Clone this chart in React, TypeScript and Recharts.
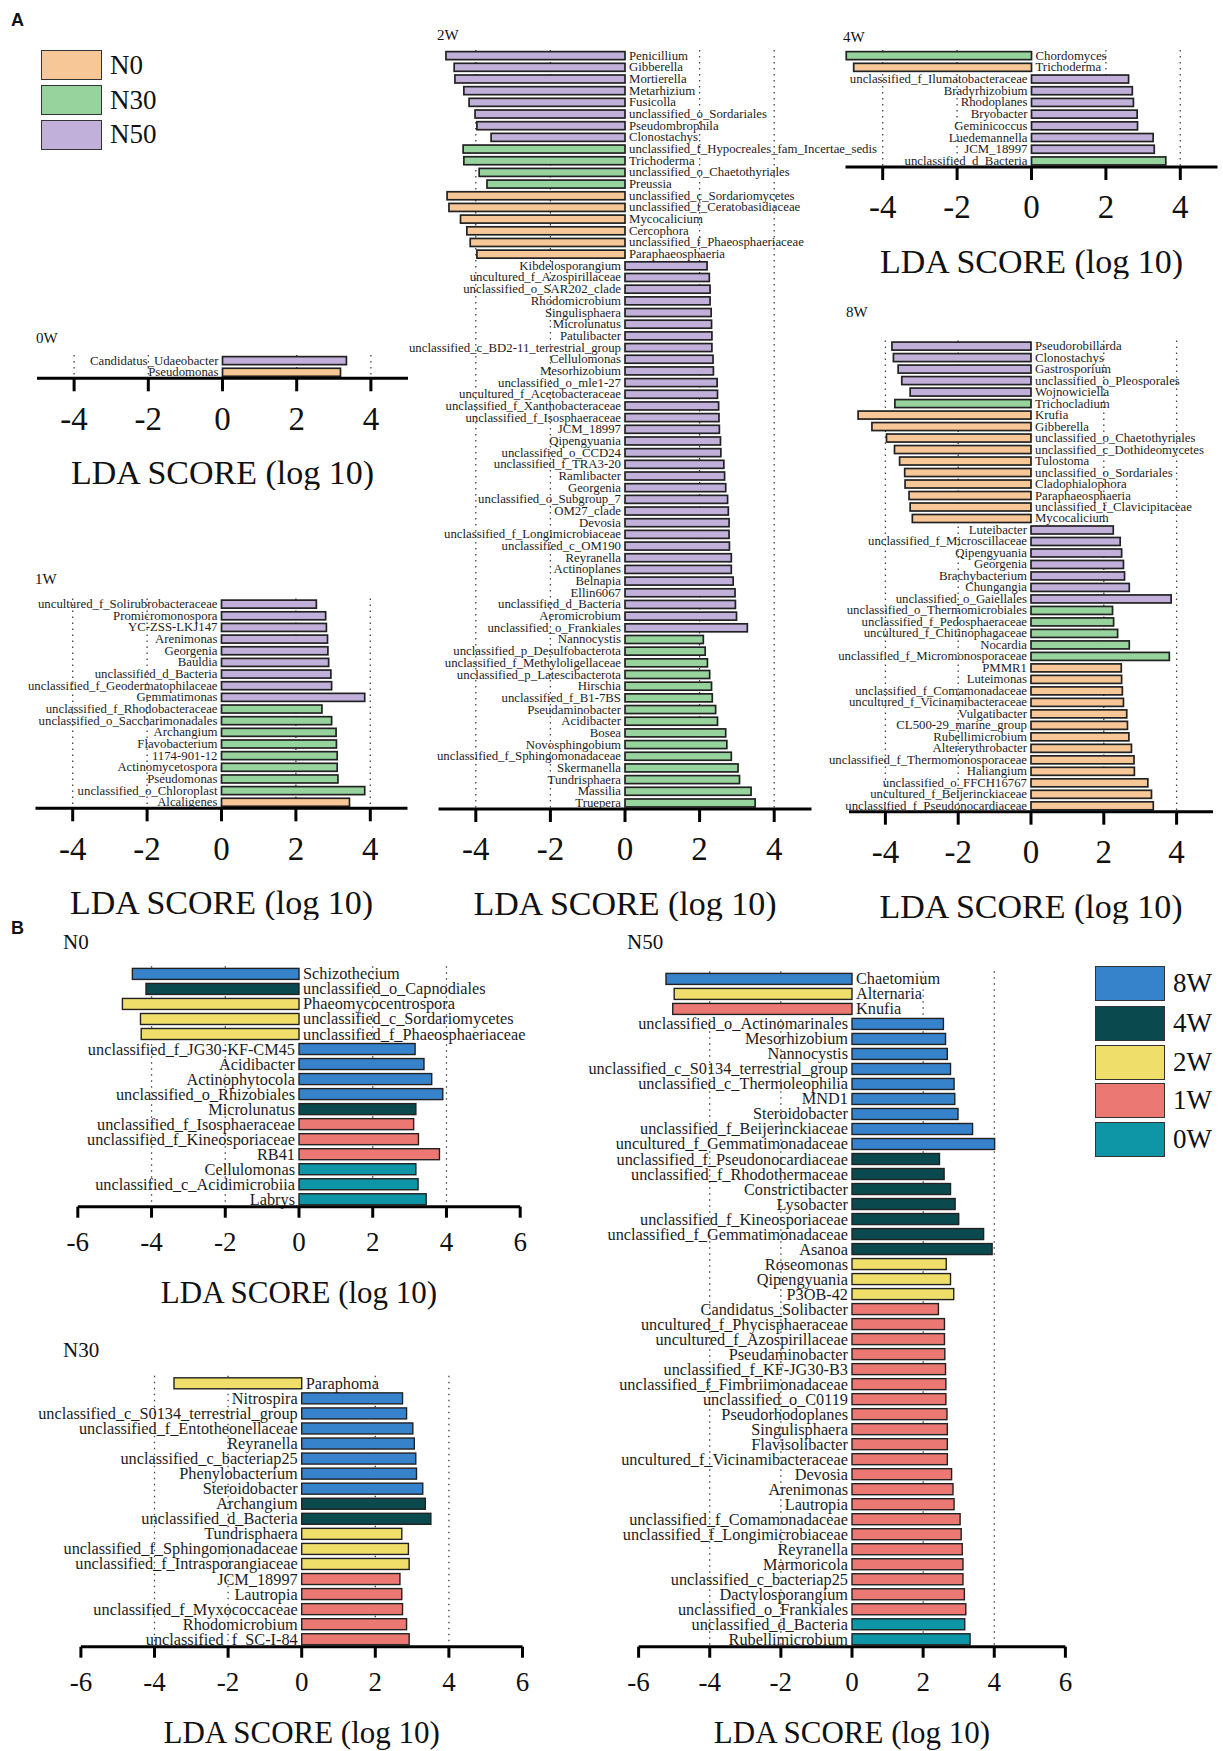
import React from 'react';
import { BarChart, Bar, XAxis, YAxis, CartesianGrid } from 'recharts';

const SERIF = '"Liberation Serif", "Times New Roman", serif';
const SANS = '"Liberation Sans", Arial, sans-serif';

// group colours
const treatments = ['N0', 'N30', 'N50'];
const treatmentColors: Record<string, string> = { N0: '#F7C797', N30: '#97D39D', N50: '#C1B1DA' };
const stages = ['8W', '4W', '2W', '1W', '0W'];
const stageColors: Record<string, string> = {
  '8W': '#3683CC',
  '4W': '#0A4A4F',
  '2W': '#F0DE6A',
  '1W': '#EB7872',
  '0W': '#0F96A6',
};

const ticksA = [-4, -2, 0, 2, 4];
const ticksB = [-6, -4, -2, 0, 2, 4, 6];
const dottedAt = [-4, -2, 2, 4];
const axisTitle = 'LDA SCORE (log 10)';

// ---- A: 0W
const w0Names = ['Candidatus_Udaeobacter', 'Pseudomonas'];
const w0Scores = [3.34, 3.18];
const w0Groups = ['N50', 'N0'];

// ---- A: 1W
const w1Names = [
  'uncultured_f_Solirubrobacteraceae', 'Promicromonospora', 'YC-ZSS-LKJ147', 'Arenimonas', 'Georgenia',
  'Bauldia', 'unclassified_d_Bacteria', 'unclassified_f_Geodermatophilaceae', 'Gemmatimonas',
  'unclassified_f_Rhodobacteraceae', 'unclassified_o_Saccharimonadales', 'Archangium', 'Flavobacterium',
  '1174-901-12', 'Actinomycetospora', 'Pseudomonas', 'unclassified_o_Chloroplast', 'Alcaligenes',
];
const w1Scores = [2.55, 2.8, 2.82, 2.85, 2.86, 2.88, 2.94, 2.96, 3.85, 2.7, 2.96, 3.08, 3.09, 3.11, 3.11, 3.13, 3.85, 3.44];
const w1Groups = [
  'N50', 'N50', 'N50', 'N50', 'N50', 'N50', 'N50', 'N50', 'N50',
  'N30', 'N30', 'N30', 'N30', 'N30', 'N30', 'N30', 'N30', 'N0',
];

// ---- A: 2W
const w2Names = [
  'Penicillium', 'Gibberella', 'Mortierella', 'Metarhizium', 'Fusicolla', 'unclassified_o_Sordariales',
  'Pseudombrophila', 'Clonostachys', 'unclassified_f_Hypocreales_fam_Incertae_sedis', 'Trichoderma',
  'unclassified_o_Chaetothyriales', 'Preussia', 'unclassified_c_Sordariomycetes',
  'unclassified_f_Ceratobasidiaceae', 'Mycocalicium', 'Cercophora', 'unclassified_f_Phaeosphaeriaceae',
  'Paraphaeosphaeria', 'Kibdelosporangium', 'uncultured_f_Azospirillaceae', 'unclassified_o_SAR202_clade',
  'Rhodomicrobium', 'Singulisphaera', 'Microlunatus', 'Patulibacter', 'unclassified_c_BD2-11_terrestrial_group',
  'Cellulomonas', 'Mesorhizobium', 'unclassified_o_mle1-27', 'uncultured_f_Acetobacteraceae',
  'unclassified_f_Xanthobacteraceae', 'unclassified_f_Isosphaeraceae', 'JCM_18997', 'Qipengyuania',
  'unclassified_o_CCD24', 'unclassified_f_TRA3-20', 'Ramlibacter', 'Georgenia', 'unclassified_o_Subgroup_7',
  'OM27_clade', 'Devosia', 'unclassified_f_Longimicrobiaceae', 'unclassified_c_OM190', 'Reyranella',
  'Actinoplanes', 'Belnapia', 'Ellin6067', 'unclassified_d_Bacteria', 'Aeromicrobium',
  'unclassified_o_Frankiales', 'Nannocystis', 'unclassified_p_Desulfobacterota',
  'unclassified_f_Methyloligellaceae', 'unclassified_p_Latescibacterota', 'Hirschia', 'unclassified_f_B1-7BS',
  'Pseudaminobacter', 'Acidibacter', 'Bosea', 'Novosphingobium', 'unclassified_f_Sphingomonadaceae',
  'Skermanella', 'Tundrisphaera', 'Massilia', 'Truepera',
];
const w2Scores = [
  -4.8, -4.58, -4.56, -4.32, -4.18, -4.02, -3.97, -3.59,
  -4.34, -4.32, -3.91, -3.7,
  -4.77, -4.72, -4.41, -4.24, -4.15, -3.97,
  2.2, 2.26, 2.28, 2.28, 2.31, 2.32, 2.33, 2.33, 2.36, 2.37, 2.47, 2.48, 2.51, 2.52, 2.53, 2.56,
  2.57, 2.65, 2.67, 2.7, 2.75, 2.77, 2.79, 2.79, 2.8, 2.85, 2.85, 2.9, 2.95, 2.96, 2.99, 3.28,
  2.1, 2.15, 2.21, 2.27, 2.32, 2.34, 2.43, 2.48, 2.7, 2.73, 2.85, 3.03, 3.07, 3.38, 3.49,
];
const w2Groups = [
  'N50', 'N50', 'N50', 'N50', 'N50', 'N50', 'N50', 'N50',
  'N30', 'N30', 'N30', 'N30',
  'N0', 'N0', 'N0', 'N0', 'N0', 'N0',
  'N50', 'N50', 'N50', 'N50', 'N50', 'N50', 'N50', 'N50', 'N50', 'N50', 'N50', 'N50', 'N50', 'N50', 'N50', 'N50',
  'N50', 'N50', 'N50', 'N50', 'N50', 'N50', 'N50', 'N50', 'N50', 'N50', 'N50', 'N50', 'N50', 'N50', 'N50', 'N50',
  'N30', 'N30', 'N30', 'N30', 'N30', 'N30', 'N30', 'N30', 'N30', 'N30', 'N30', 'N30', 'N30', 'N30', 'N30',
];

// ---- A: 4W
const w4Names = [
  'Chordomyces', 'Trichoderma', 'unclassified_f_Ilumatobacteraceae', 'Bradyrhizobium', 'Rhodoplanes',
  'Bryobacter', 'Geminicoccus', 'Luedemannella', 'JCM_18997', 'unclassified_d_Bacteria',
];
const w4Scores = [-4.98, -4.78, 2.61, 2.71, 2.74, 2.84, 2.85, 3.27, 3.3, 3.61];
const w4Groups = ['N30', 'N0', 'N50', 'N50', 'N50', 'N50', 'N50', 'N50', 'N50', 'N30'];

// ---- A: 8W
const w8Names = [
  'Pseudorobillarda', 'Clonostachys', 'Gastrosporium', 'unclassified_o_Pleosporales', 'Wojnowiciella',
  'Trichocladium', 'Krufia', 'Gibberella', 'unclassified_o_Chaetothyriales', 'unclassified_c_Dothideomycetes',
  'Tulostoma', 'unclassified_o_Sordariales', 'Cladophialophora', 'Paraphaeosphaeria',
  'unclassified_f_Clavicipitaceae', 'Mycocalicium', 'Luteibacter', 'unclassified_f_Microscillaceae',
  'Qipengyuania', 'Georgenia', 'Brachybacterium', 'Chungangia', 'unclassified_o_Gaiellales',
  'unclassified_o_Thermomicrobiales', 'unclassified_f_Pedosphaeraceae', 'uncultured_f_Chitinophagaceae',
  'Nocardia', 'unclassified_f_Micromonosporaceae', 'PMMR1', 'Luteimonas', 'unclassified_f_Comamonadaceae',
  'uncultured_f_Vicinamibacteraceae', 'Vulgatibacter', 'CL500-29_marine_group', 'Rubellimicrobium',
  'Altererythrobacter', 'unclassified_f_Thermomonosporaceae', 'Haliangium', 'unclassified_o_FFCH16767',
  'uncultured_f_Beijerinckiaceae', 'unclassified_f_Pseudonocardiaceae',
];
const w8Scores = [
  -3.82, -3.78, -3.65, -3.55, -3.32, -3.74, -4.75, -4.37, -3.97, -3.75, -3.61, -3.47, -3.46, -3.35, -3.32, -3.26,
  2.26, 2.45, 2.49, 2.54, 2.57, 2.7, 3.85,
  2.24, 2.27, 2.38, 2.7, 3.8,
  2.48, 2.49, 2.51, 2.54, 2.63, 2.65, 2.69, 2.76, 2.83, 2.84, 3.21, 3.31, 3.36,
];
const w8Groups = [
  'N50', 'N50', 'N50', 'N50', 'N50', 'N30', 'N0', 'N0', 'N0', 'N0', 'N0', 'N0', 'N0', 'N0', 'N0', 'N0',
  'N50', 'N50', 'N50', 'N50', 'N50', 'N50', 'N50',
  'N30', 'N30', 'N30', 'N30', 'N30',
  'N0', 'N0', 'N0', 'N0', 'N0', 'N0', 'N0', 'N0', 'N0', 'N0', 'N0', 'N0', 'N0',
];

// ---- B: N0
const n0Names = [
  'Schizothecium', 'unclassified_o_Capnodiales', 'Phaeomycocentrospora', 'unclassified_c_Sordariomycetes',
  'unclassified_f_Phaeosphaeriaceae', 'unclassified_f_JG30-KF-CM45', 'Acidibacter', 'Actinophytocola',
  'unclassified_o_Rhizobiales', 'Microlunatus', 'unclassified_f_Isosphaeraceae',
  'unclassified_f_Kineosporiaceae', 'RB41', 'Cellulomonas', 'unclassified_c_Acidimicrobiia', 'Labrys',
];
const n0Scores = [-4.52, -4.15, -4.79, -4.3, -4.28, 3.15, 3.39, 3.6, 3.9, 3.17, 3.11, 3.24, 3.81, 3.17, 3.23, 3.45];
const n0Groups = ['8W', '4W', '2W', '2W', '2W', '8W', '8W', '8W', '8W', '4W', '1W', '1W', '1W', '0W', '0W', '0W'];

// ---- B: N30
const n30Names = [
  'Paraphoma', 'Nitrospira', 'unclassified_c_S0134_terrestrial_group', 'unclassified_f_Entotheonellaceae',
  'Reyranella', 'unclassified_c_bacteriap25', 'Phenylobacterium', 'Steroidobacter', 'Archangium',
  'unclassified_d_Bacteria', 'Tundrisphaera', 'unclassified_f_Sphingomonadaceae',
  'unclassified_f_Intrasporangiaceae', 'JCM_18997', 'Lautropia', 'unclassified_f_Myxococcaceae',
  'Rhodomicrobium', 'unclassified_f_SC-I-84',
];
const n30Scores = [-3.47, 2.74, 2.85, 3.02, 3.06, 3.1, 3.12, 3.29, 3.36, 3.51, 2.72, 2.9, 2.92, 2.67, 2.72, 2.74, 2.85, 2.92];
const n30Groups = [
  '2W', '8W', '8W', '8W', '8W', '8W', '8W', '8W', '4W', '4W', '2W', '2W', '2W', '1W', '1W', '1W', '1W', '1W',
];

// ---- B: N50
const n50Names = [
  'Chaetomium', 'Alternaria', 'Knufia', 'unclassified_o_Actinomarinales', 'Mesorhizobium', 'Nannocystis',
  'unclassified_c_S0134_terrestrial_group', 'unclassified_c_Thermoleophilia', 'MND1', 'Steroidobacter',
  'unclassified_f_Beijerinckiaceae', 'uncultured_f_Gemmatimonadaceae', 'unclassified_f_Pseudonocardiaceae',
  'unclassified_f_Rhodothermaceae', 'Constrictibacter', 'Lysobacter', 'unclassified_f_Kineosporiaceae',
  'unclassified_f_Gemmatimonadaceae', 'Asanoa', 'Roseomonas', 'Qipengyuania', 'P3OB-42',
  'Candidatus_Solibacter', 'uncultured_f_Phycisphaeraceae', 'uncultured_f_Azospirillaceae',
  'Pseudaminobacter', 'unclassified_f_KF-JG30-B3', 'unclassified_f_Fimbriimonadaceae', 'unclassified_o_C0119',
  'Pseudorhodoplanes', 'Singulisphaera', 'Flavisolibacter', 'uncultured_f_Vicinamibacteraceae', 'Devosia',
  'Arenimonas', 'Lautropia', 'unclassified_f_Comamonadaceae', 'unclassified_f_Longimicrobiaceae',
  'Reyranella', 'Marmoricola', 'unclassified_c_bacteriap25', 'Dactylosporangium', 'unclassified_o_Frankiales',
  'unclassified_d_Bacteria', 'Rubellimicrobium',
];
const n50Scores = [
  -5.23, -5.0, -5.04,
  2.57, 2.63, 2.68, 2.77, 2.87, 2.89, 2.98, 3.39, 4.01,
  2.46, 2.59, 2.77, 2.9, 3.0, 3.7, 3.94,
  2.65, 2.77, 2.86,
  2.43, 2.6, 2.6, 2.61, 2.63, 2.64, 2.64, 2.67, 2.68, 2.68, 2.68, 2.8, 2.84, 2.87, 3.04, 3.07, 3.1, 3.12, 3.12,
  3.16, 3.2,
  3.17, 3.32,
];
const n50Groups = [
  '8W', '2W', '1W',
  '8W', '8W', '8W', '8W', '8W', '8W', '8W', '8W', '8W',
  '4W', '4W', '4W', '4W', '4W', '4W', '4W',
  '2W', '2W', '2W',
  '1W', '1W', '1W', '1W', '1W', '1W', '1W', '1W', '1W', '1W', '1W', '1W', '1W', '1W', '1W', '1W', '1W', '1W', '1W',
  '1W', '1W',
  '0W', '0W',
];

type Row = { name: string; score: number; group: string };

const zipRows = (names: string[], scores: number[], groups: string[]): Row[] =>
  names.map((name, i) => ({ name, score: scores[i], group: groups[i] }));

interface AxisStyle {
  axisHeight: number;
  tickFont: number;
  tickLen: number;
  tickGap: number;
  titleFont: number;
  titleOffset: number;
  labelFont: number;
  barStroke: number;
  domain: [number, number];
  ticks: number[];
}

const styleA: AxisStyle = {
  axisHeight: 112, tickFont: 33, tickLen: 13, tickGap: 15, titleFont: 34, titleOffset: 6,
  labelFont: 12.8, barStroke: 1.7, domain: [-5, 5], ticks: ticksA,
};
const styleB: AxisStyle = {
  axisHeight: 104, tickFont: 27, tickLen: 11, tickGap: 14, titleFont: 31, titleOffset: 8,
  labelFont: 16.3, barStroke: 1.4, domain: [-6, 6], ticks: ticksB,
};

// bar rectangle plus its taxon name written on the other side of zero
const makeShape = (colors: Record<string, string>, fontSize: number, strokeWidth: number) => (props: any) => {
  const { x, y, width, height, payload } = props;
  const left = Math.min(x, x + width);
  const w = Math.abs(width);
  const neg = payload.score < 0;
  const zero = neg ? left + w : left;
  return (
    <g>
      <rect x={left} y={y} width={w} height={height} fill={colors[payload.group]} stroke="#222" strokeWidth={strokeWidth} />
      <text
        x={neg ? zero + 4 : zero - 4}
        y={y + height / 2}
        textAnchor={neg ? 'start' : 'end'}
        dominantBaseline="central"
        fontSize={fontSize}
        fontFamily={SERIF}
        fill="#1c1c1c"
      >
        {payload.name}
      </text>
    </g>
  );
};

interface PanelProps {
  data: Row[];
  colors: Record<string, string>;
  s: AxisStyle;
  left: number;
  top: number;
  width: number;
  x0: number;
  x1: number;
  y0: number;
  y1: number;
}

const LdaPanel: React.FC<PanelProps> = ({ data, colors, s, left, top, width, x0, x1, y0, y1 }) => {
  const height = y1 - top + s.axisHeight;
  return (
    <div style={{ position: 'absolute', left, top, width, height }}>
      <BarChart
        layout="vertical"
        width={width}
        height={height}
        data={data}
        margin={{ top: y0 - top, right: left + width - x1, bottom: 0, left: x0 - left }}
        barCategoryGap="14%"
      >
        <CartesianGrid
          horizontal={false}
          verticalValues={dottedAt}
          stroke="#444"
          strokeWidth={1.3}
          strokeDasharray="1.5 4.5"
        />
        <XAxis
          type="number"
          domain={s.domain}
          ticks={s.ticks}
          interval={0}
          height={s.axisHeight}
          axisLine={{ stroke: '#000', strokeWidth: 3 }}
          tickLine={{ stroke: '#000', strokeWidth: 3 }}
          tickSize={s.tickLen}
          tickMargin={s.tickGap}
          tick={{ fontSize: s.tickFont, fill: '#111', fontFamily: SERIF }}
          label={{
            value: axisTitle,
            position: 'insideBottom',
            offset: s.titleOffset,
            fontSize: s.titleFont,
            fill: '#111',
            fontFamily: SERIF,
          }}
        />
        <YAxis type="category" dataKey="name" hide />
        <Bar dataKey="score" isAnimationActive={false} shape={makeShape(colors, s.labelFont, s.barStroke)} />
      </BarChart>
    </div>
  );
};

const Caption: React.FC<{ x: number; cy: number; size: number; text: string; bold?: boolean; sans?: boolean }> = ({
  x, cy, size, text, bold, sans,
}) => (
  <div
    style={{
      position: 'absolute',
      left: x,
      top: cy - size * 0.5,
      fontSize: size,
      lineHeight: `${size}px`,
      fontFamily: sans ? SANS : SERIF,
      fontWeight: bold ? 700 : 400,
      color: '#111',
      whiteSpace: 'nowrap',
    }}
  >
    {text}
  </div>
);

const legendATop = [50, 85, 119.5];
const legendBTop = [966, 1005.5, 1044.5, 1083, 1122];

export default function App() {
  return (
    <div style={{ position: 'absolute', left: 0, top: 0, width: 1223, height: 1751, background: '#fff', overflow: 'hidden' }}>
      <Caption x={11} cy={20} size={18} text="A" bold sans />
      <Caption x={11} cy={928} size={18} text="B" bold sans />

      {treatments.map((t, i) => (
        <React.Fragment key={t}>
          <div
            style={{
              position: 'absolute', left: 40.5, top: legendATop[i], width: 61.5, height: 30,
              boxSizing: 'border-box', background: treatmentColors[t], border: '1.5px solid #333',
            }}
          />
          <Caption x={110} cy={legendATop[i] + 15} size={27} text={t} />
        </React.Fragment>
      ))}

      {stages.map((t, i) => (
        <React.Fragment key={t}>
          <div
            style={{
              position: 'absolute', left: 1095, top: legendBTop[i], width: 70, height: 35,
              boxSizing: 'border-box', background: stageColors[t], border: '1.5px solid #333',
            }}
          />
          <Caption x={1173} cy={legendBTop[i] + 17.5} size={27} text={t} />
        </React.Fragment>
      ))}

      <Caption x={36} cy={338} size={15} text="0W" />
      <Caption x={35} cy={579} size={15} text="1W" />
      <Caption x={437} cy={35} size={15} text="2W" />
      <Caption x={843} cy={37} size={15} text="4W" />
      <Caption x={846} cy={312} size={15} text="8W" />
      <Caption x={63} cy={942} size={21} text="N0" />
      <Caption x={63} cy={1350} size={21} text="N30" />
      <Caption x={627} cy={942} size={21} text="N50" />

      <LdaPanel data={zipRows(w0Names, w0Scores, w0Groups)} colors={treatmentColors} s={styleA}
        left={20} top={330} width={410} x0={37} x1={408} y0={355} y1={378.3} />
      <LdaPanel data={zipRows(w1Names, w1Scores, w1Groups)} colors={treatmentColors} s={styleA}
        left={0} top={590} width={425} x0={35.5} x1={407.5} y0={598.5} y1={808.3} />
      <LdaPanel data={zipRows(w2Names, w2Scores, w2Groups)} colors={treatmentColors} s={styleA}
        left={390} top={20} width={510} x0={438.5} x1={811.5} y0={50} y1={809} />
      <LdaPanel data={zipRows(w4Names, w4Scores, w4Groups)} colors={treatmentColors} s={styleA}
        left={830} top={30} width={393} x0={845.5} x1={1217.5} y0={50} y1={167} />
      <LdaPanel data={zipRows(w8Names, w8Scores, w8Groups)} colors={treatmentColors} s={styleA}
        left={800} top={320} width={423} x0={849} x1={1213} y0={340.5} y1={811.7} />

      <LdaPanel data={zipRows(n0Names, n0Scores, n0Groups)} colors={stageColors} s={styleB}
        left={40} top={950} width={510} x0={77.8} x1={520.2} y0={966.3} y1={1206.7} />
      <LdaPanel data={zipRows(n30Names, n30Scores, n30Groups)} colors={stageColors} s={styleB}
        left={20} top={1360} width={520} x0={80.9} x1={522.5} y0={1375.7} y1={1646.7} />
      <LdaPanel data={zipRows(n50Names, n50Scores, n50Groups)} colors={stageColors} s={styleB}
        left={570} top={955} width={510} x0={638.6} x1={1065.4} y0={971.3} y1={1646.7} />
    </div>
  );
}
